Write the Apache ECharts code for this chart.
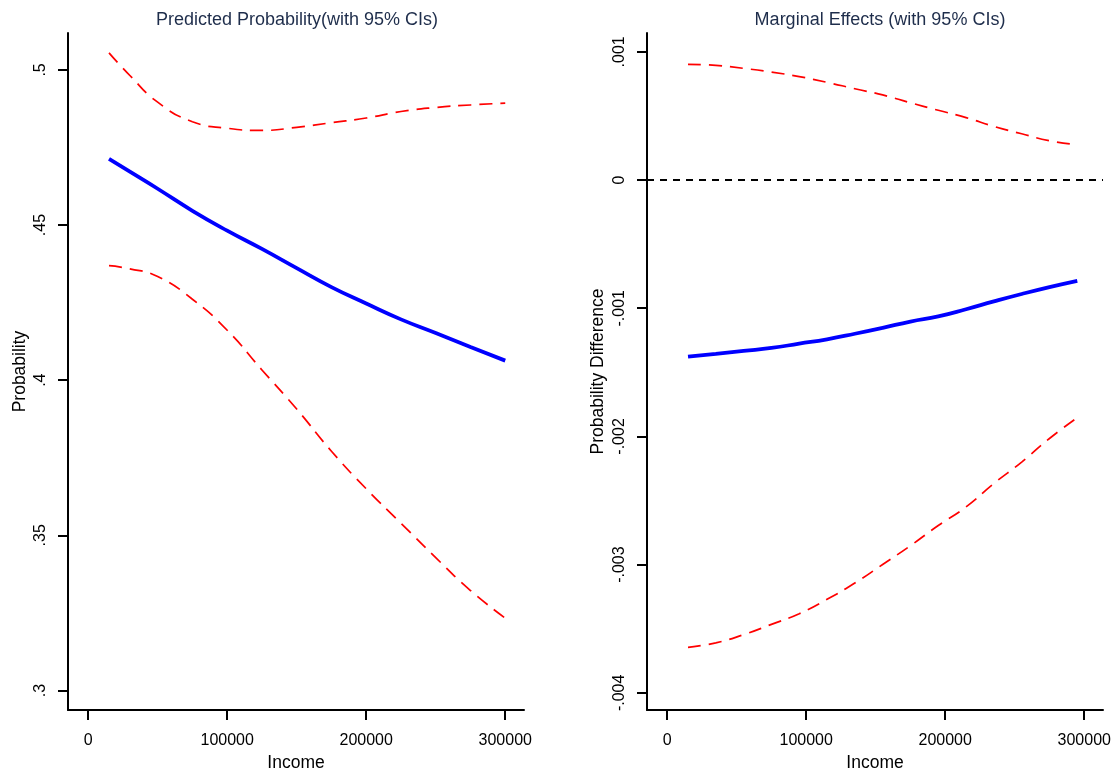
<!DOCTYPE html>
<html>
<head>
<meta charset="utf-8">
<script src="https://cdn.jsdelivr.net/npm/echarts@6/dist/echarts.min.js"></script>
<style>
html,body{margin:0;padding:0;background:#fff;}
#chart{width:1119px;height:771px;}
</style>
</head>
<body>
<div id="chart"></div>
<script>
// ---- Left panel: Predicted Probability ----
const incomeLeft = [15000, 30000, 50000, 75000, 100000, 125000, 150000, 175000, 200000, 225000, 250000, 275000, 300000];
const probPred  = [0.4713, 0.4672, 0.4617, 0.4546, 0.4482, 0.4423, 0.4361, 0.4300, 0.4247, 0.4196, 0.4152, 0.4107, 0.4063];
const probUpper = [0.5055, 0.4982, 0.4896, 0.4833, 0.4812, 0.4805, 0.4815, 0.4830, 0.4845, 0.4866, 0.4879, 0.4887, 0.4893];
const probLower = [0.4369, 0.4359, 0.4334, 0.4261, 0.4161, 0.4033, 0.3907, 0.3771, 0.3650, 0.3539, 0.3428, 0.3322, 0.3233];

// ---- Right panel: Marginal Effects ----
const incomeRight = [15000, 35000, 55000, 75000, 95000, 115000, 135000, 155000, 175000, 195000, 215000, 235000, 255000, 275000, 295000];
const meEffect = [-0.001378, -0.001356, -0.001333, -0.001310, -0.001276, -0.001242, -0.001199, -0.001153, -0.001104, -0.001064, -0.001008, -0.000947, -0.000889, -0.000835, -0.000786];
const meUpper  = [0.000903, 0.000895, 0.000871, 0.000842, 0.000807, 0.000762, 0.000712, 0.000664, 0.000603, 0.000544, 0.000487, 0.000418, 0.000361, 0.000307, 0.000275];
const meLower  = [-0.003645, -0.003610, -0.003546, -0.003466, -0.003383, -0.003271, -0.003144, -0.002999, -0.002852, -0.002695, -0.002550, -0.002367, -0.002200, -0.002016, -0.001853];

// ---- Tick labels ----
const xTicks = [0, 100000, 200000, 300000];
const yTicksLeft = [0.3, 0.35, 0.4, 0.45, 0.5];
const yTicksRight = [-0.004, -0.003, -0.002, -0.001, 0, 0.001];

const titles = ['Predicted Probability(with 95% CIs)', 'Marginal Effects (with 95% CIs)'];
const yNames = ['Probability', 'Probability Difference'];
const xName = 'Income';

function pairs(xs, ys){ return xs.map((x,i)=>[x, ys[i]]); }
function fmtY(v){
  if (Math.abs(v) < 1e-12) return '0';
  let s = String(+Number(v).toPrecision(6));
  return s.replace('0.', '.');
}
function fmtX(v){ return String(Math.round(v)); }

const FONT = 'Liberation Sans, Arial, sans-serif';
const txt = {color:'#000', fontFamily: FONT, fontSize: 16};
const nameTxt = {color:'#000', fontFamily: FONT, fontSize: 17.5};

function xAxisCfg(idx){
  return {
    type:'value', gridIndex: idx, min: -14500, max: 313500,
    name: xName, nameLocation:'middle', nameGap: 36,
    nameTextStyle: {...nameTxt},
    axisLine:{show:true, onZero:false, lineStyle:{color:'#000', width:2}},
    axisTick:{show:true, customValues: xTicks, length:10, lineStyle:{color:'#000', width:2}},
    axisLabel:{show:true, customValues: xTicks, margin: 23, formatter: fmtX, ...txt},
    splitLine:{show:false}
  };
}
function yAxisCfg(idx, min, max, ticks, nameGap){
  return {
    type:'value', gridIndex: idx, min: min, max: max,
    name: yNames[idx], nameLocation:'middle', nameGap: nameGap,
    nameTextStyle: {...nameTxt},
    axisLine:{show:true, onZero:false, lineStyle:{color:'#000', width:2}},
    axisTick:{show:true, customValues: ticks, length:10, lineStyle:{color:'#000', width:2}},
    axisLabel:{show:true, customValues: ticks, rotate: 90, margin: 19, formatter: fmtY, ...txt},
    splitLine:{show:false}
  };
}

const redDash = {color:'#ff0000', width:1.7, type:[13,8]};
const blueSolid = {color:'#0000ff', width:3.8};

const option = {
  backgroundColor:'#fff',
  animation:false,
  title:[
    {text: titles[0], left: 292, top: 6, textAlign:'center', textStyle:{color:'#1e2d4b', fontFamily: FONT, fontSize:18, fontWeight:'normal'}},
    {text: titles[1], left: 875, top: 6, textAlign:'center', textStyle:{color:'#1e2d4b', fontFamily: FONT, fontSize:18, fontWeight:'normal'}}
  ],
  grid:[
    {left: 68, top: 33, width: 456, height: 677, containLabel:false, outerBoundsMode:'none'},
    {left: 647, top: 33, width: 456, height: 677, containLabel:false, outerBoundsMode:'none'}
  ],
  xAxis:[ xAxisCfg(0), xAxisCfg(1) ],
  yAxis:[
    yAxisCfg(0, 0.2937, 0.5119, yTicksLeft, 39),
    yAxisCfg(1, -0.004134, 0.001147, yTicksRight, 40)
  ],
  series:[
    {type:'line', xAxisIndex:0, yAxisIndex:0, data: pairs(incomeLeft, probUpper), smooth:true, showSymbol:false, lineStyle: redDash},
    {type:'line', xAxisIndex:0, yAxisIndex:0, data: pairs(incomeLeft, probLower), smooth:true, showSymbol:false, lineStyle: redDash},
    {type:'line', xAxisIndex:0, yAxisIndex:0, data: pairs(incomeLeft, probPred), smooth:true, showSymbol:false, lineStyle: blueSolid},
    {type:'line', xAxisIndex:1, yAxisIndex:1, data: pairs(incomeRight, meUpper), smooth:true, showSymbol:false, lineStyle: redDash},
    {type:'line', xAxisIndex:1, yAxisIndex:1, data: pairs(incomeRight, meLower), smooth:true, showSymbol:false, lineStyle: redDash},
    {type:'line', xAxisIndex:1, yAxisIndex:1, data: pairs(incomeRight, meEffect), smooth:true, showSymbol:false, lineStyle: blueSolid,
      markLine:{silent:true, symbol:'none', label:{show:false},
        lineStyle:{color:'#000', width:2, type:[7,6]},
        data:[{yAxis:0}]}
    }
  ]
};

const chart = echarts.init(document.getElementById('chart'), null, {renderer:'canvas'});
chart.setOption(option);
</script>
</body>
</html>
